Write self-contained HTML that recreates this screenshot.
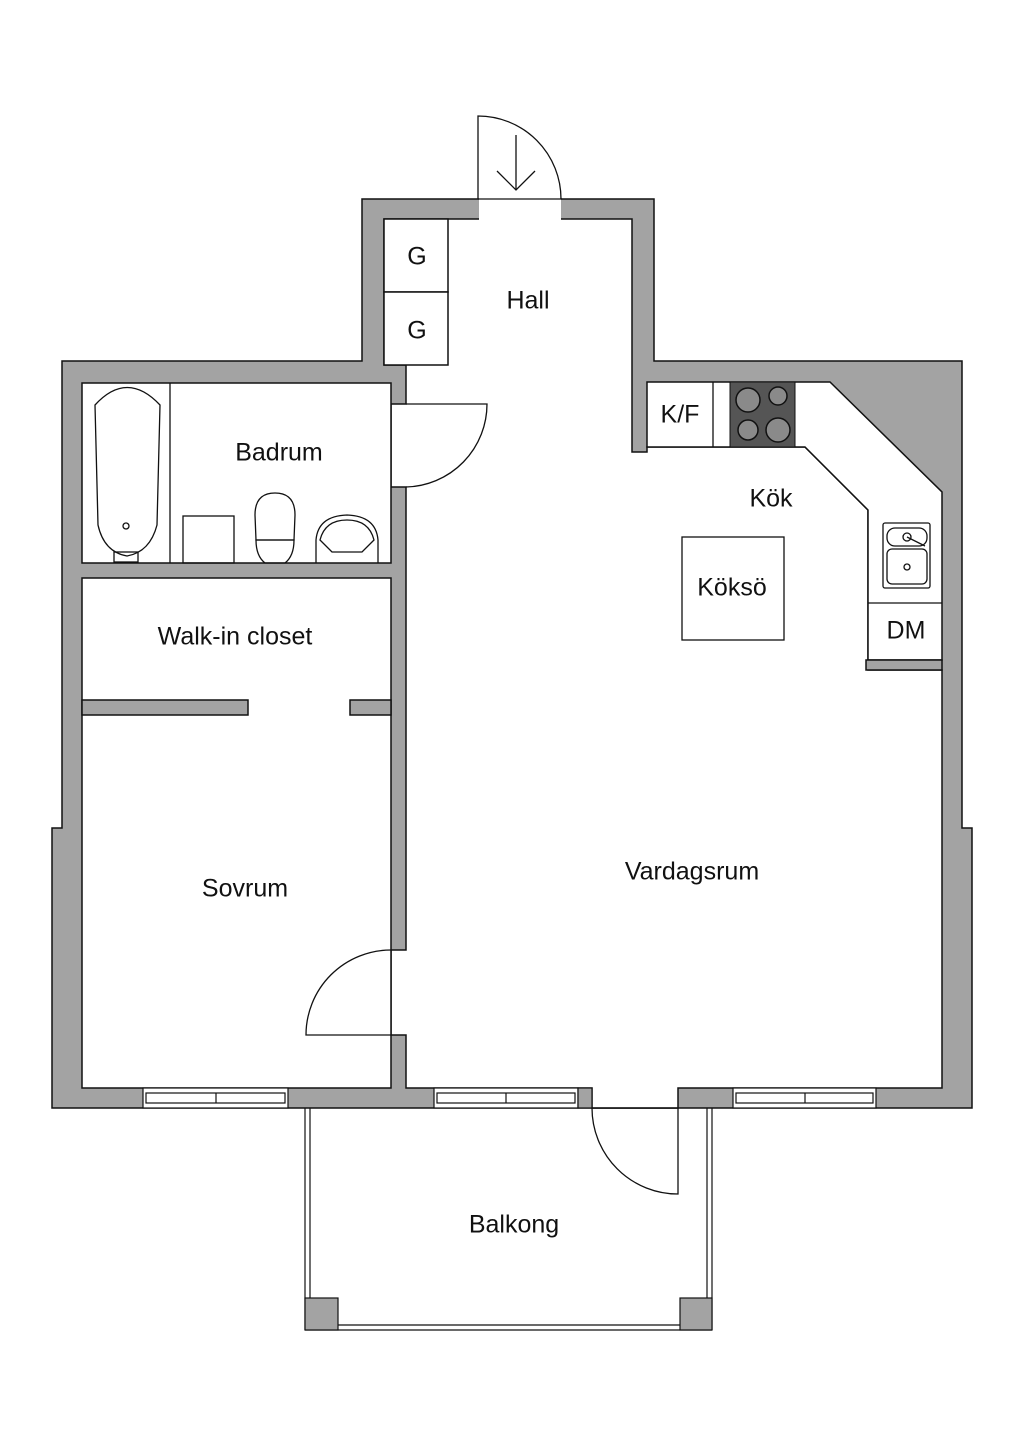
<!DOCTYPE html>
<html><head><meta charset="utf-8"><style>
html,body{margin:0;padding:0;background:#fff;}
svg{display:block}
text{font-family:"Liberation Sans",sans-serif;font-size:25px;fill:#111;text-anchor:middle;dominant-baseline:middle}
</style></head><body>
<svg width="1024" height="1448" viewBox="0 0 1024 1448" xmlns="http://www.w3.org/2000/svg">
<g stroke="#111" stroke-width="1.5">
<polygon fill="#a3a3a3" points="362,199 654,199 654,361 962,361 962,828 972,828 972,1108 52,1108 52,828 62,828 62,361 362,361"/>
<polygon fill="#fff" points="384,219 632,219 632,452 647,452 647,447 805,447 868,510 868,670 942,670 942,1088 678,1088 678,1108 592,1108 592,1088 406,1088 406,1035 391,1035 391,950 406,950 406,487 391,487 391,404 406,404 406,365 384,365"/>
<polygon fill="#fff" points="647,382 830,382 942,492 942,660 868,660 868,510 805,447 647,447"/>
<rect x="866" y="660" width="76" height="10" fill="#a3a3a3"/>
<rect x="82" y="383" width="309" height="180" fill="#fff"/>
<rect x="82" y="578" width="309" height="510" fill="#fff"/>
<rect x="82" y="700" width="166" height="15" fill="#a3a3a3"/>
<rect x="350" y="700" width="41" height="15" fill="#a3a3a3"/>
<rect x="384" y="219" width="64" height="73" fill="#fff"/>
<rect x="384" y="292" width="64" height="73" fill="#fff"/>
</g>
<rect x="479" y="198" width="82" height="22" fill="#fff"/>
<g fill="none" stroke="#111" stroke-width="1.3">
<line x1="478" y1="199" x2="562" y2="199"/>
<path d="M478,199 L478,116 A83,83 0 0 1 561,199"/>
<line x1="516" y1="135" x2="516" y2="190"/>
<polyline points="497,171 516,190 535,171"/>
<path d="M406,404 L487,404 A83,83 0 0 1 406,487"/>
<path d="M391,950 A85,85 0 0 0 306,1035 L391,1035"/>
<path d="M592,1108 A86,86 0 0 0 678,1194 L678,1108"/>
<line x1="592" y1="1108" x2="678" y2="1108"/>
<line x1="170" y1="383" x2="170" y2="563"/>
<path d="M95,405 Q127,370 160,405 L157,525 Q150,552 127,556 Q104,552 98,525 Z"/>
<circle cx="126" cy="526" r="3"/>
<rect x="114" y="552" width="24" height="10"/>
<rect x="183" y="516" width="51" height="47"/>
<path d="M255,515 Q255,493 275,493 Q295,493 295,515 L294,540 L256,540 Z"/>
<path d="M256,540 L294,540 Q294,556 285,563 L265,563 Q256,556 256,540 Z"/>
<path d="M316,563 L316,540 Q318,516 347,515 Q376,516 378,540 L378,563"/>
<path d="M320,540 Q325,520 347,520 Q369,520 374,540 L362,552 L332,552 Z"/>
<line x1="713" y1="382" x2="713" y2="447"/>
<rect x="682" y="537" width="102" height="103"/>
<rect x="883" y="523" width="47" height="65" rx="2"/>
<rect x="887" y="528" width="40" height="18" rx="8"/>
<rect x="887" y="549" width="40" height="35" rx="5"/>
<circle cx="907" cy="537" r="4"/>
<line x1="907" y1="537" x2="925" y2="546"/>
<circle cx="907" cy="567" r="3"/>
<line x1="868" y1="603" x2="942" y2="603"/>
</g>
<rect x="730" y="382" width="65" height="65" fill="#555" stroke="#111"/>
<g fill="#8a8a8a" stroke="#111" stroke-width="1.5">
<circle cx="748" cy="400" r="12"/><circle cx="778" cy="396" r="9"/>
<circle cx="748" cy="430" r="10"/><circle cx="778" cy="430" r="12"/>
</g>
<g fill="#fff" stroke="#111" stroke-width="1.2">
<rect x="143" y="1088" width="145" height="20"/>
<rect x="434" y="1088" width="144" height="20"/>
<rect x="733" y="1088" width="143" height="20"/>
<rect x="146" y="1093" width="139" height="10"/>
<rect x="437" y="1093" width="138" height="10"/>
<rect x="736" y="1093" width="137" height="10"/>
<line x1="216" y1="1093" x2="216" y2="1103"/>
<line x1="506" y1="1093" x2="506" y2="1103"/>
<line x1="805" y1="1093" x2="805" y2="1103"/>
</g>
<rect x="578" y="1088" width="14" height="20" fill="#a3a3a3" stroke="#111" stroke-width="1.2"/>
<g fill="none" stroke="#111" stroke-width="1.2">
<line x1="305" y1="1108" x2="305" y2="1330"/><line x1="310" y1="1108" x2="310" y2="1298"/>
<line x1="712" y1="1108" x2="712" y2="1330"/><line x1="707" y1="1108" x2="707" y2="1298"/>
<line x1="338" y1="1325" x2="680" y2="1325"/><line x1="305" y1="1330" x2="712" y2="1330"/>
</g>
<rect x="305" y="1298" width="33" height="32" fill="#a3a3a3" stroke="#111" stroke-width="1.2"/>
<rect x="680" y="1298" width="32" height="32" fill="#a3a3a3" stroke="#111" stroke-width="1.2"/>
<text x="417" y="258">G</text>
<text x="417" y="332">G</text>
<text x="528" y="302">Hall</text>
<text x="279" y="454">Badrum</text>
<text x="680" y="416">K/F</text>
<text x="771" y="500">Kök</text>
<text x="732" y="589">Köksö</text>
<text x="906" y="632">DM</text>
<text x="235" y="638">Walk-in closet</text>
<text x="245" y="890">Sovrum</text>
<text x="692" y="873">Vardagsrum</text>
<text x="514" y="1226">Balkong</text>
</svg>
</body></html>
